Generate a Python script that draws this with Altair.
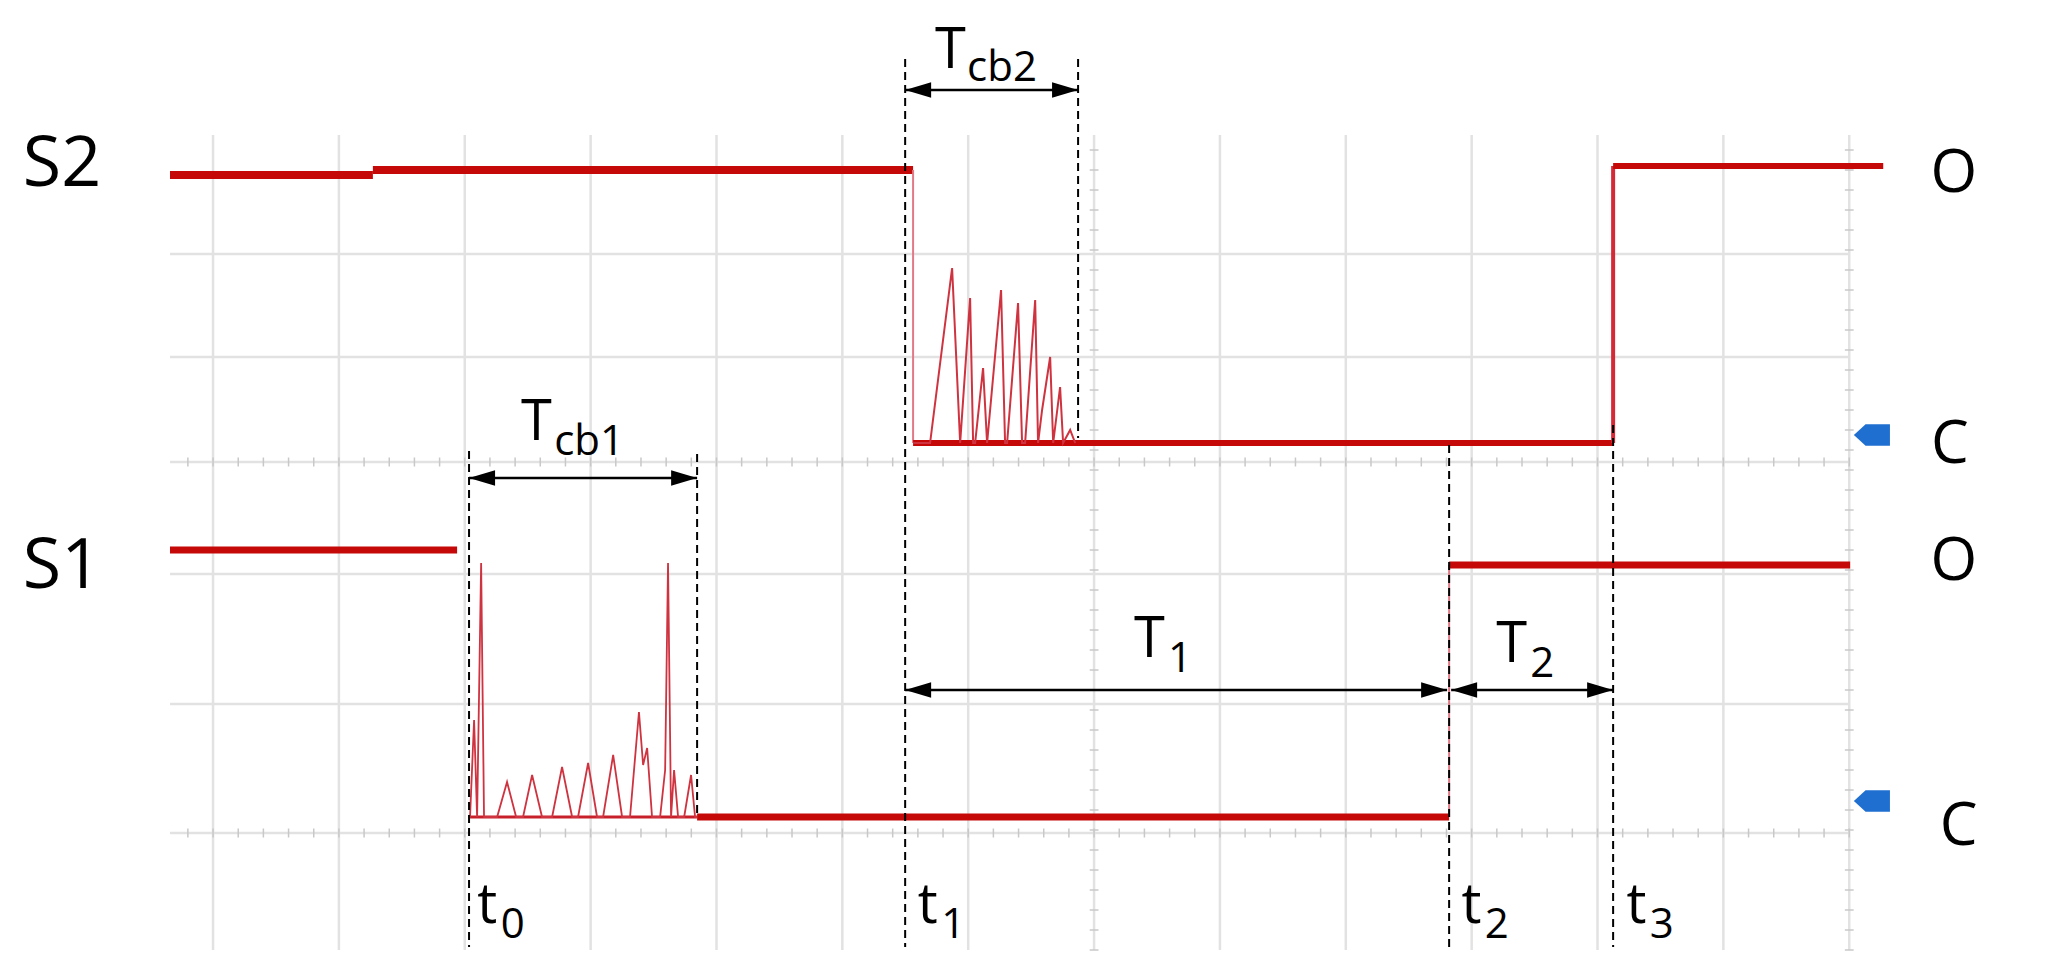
import altair as alt
import pandas as pd

# ---------------- scales (x: time in grid divisions, y: level in arbitrary units)
X_DOMAIN = [-0.342, 13.30]
Y_DOMAIN = [0.0, 8.15]

# ---------------- grid
GRID_X = [0, 1, 2, 3, 4, 5, 6, 7, 8, 9, 10, 11, 12, 13]
GRID_Y = [6.96, 5.93, 4.88, 3.76, 2.46, 1.17]
TICKED_X = [7, 13]
TICKED_Y = [4.88, 1.17]

# ---------------- traces
S2_HI_A = {"x": [-0.342, 1.27], "y": [7.75, 7.75]}
S2_HI_B = {"x": [1.27, 5.562], "y": [7.80, 7.80]}
S2_FALL = {"x": [5.562, 5.562], "y": [7.80, 5.07]}
S2_BOUNCE = {
    "x": [5.562, 5.697, 5.872, 5.936, 6.015, 6.039, 6.055, 6.118, 6.150, 6.261, 6.293,
          6.309, 6.396, 6.428, 6.452, 6.532, 6.555, 6.587, 6.651, 6.675, 6.730, 6.754,
          6.81, 6.85],
    "y": [5.07, 5.07, 6.82, 5.07, 6.52, 5.07, 5.07, 5.82, 5.07, 6.60, 5.07,
          5.07, 6.47, 5.07, 5.07, 6.50, 5.07, 5.40, 5.93, 5.07, 5.63, 5.07,
          5.20, 5.07],
}
S2_LO = {"x": [5.562, 11.124], "y": [5.07, 5.07]}
S2_RISE = {"x": [11.124, 11.124], "y": [5.07, 7.84]}
S2_HI_C = {"x": [11.124, 13.27], "y": [7.84, 7.84]}

S1_HI_A = {"x": [-0.342, 1.939], "y": [4.00, 4.00]}
S1_BOUNCE = {
    "x": [2.042, 2.074, 2.098, 2.130, 2.153, 2.257, 2.336, 2.408, 2.463, 2.535, 2.614,
          2.694, 2.773, 2.853, 2.900, 2.980, 3.051, 3.099, 3.179, 3.250, 3.313, 3.384,
          3.417, 3.449, 3.488, 3.552, 3.592, 3.615, 3.639, 3.663, 3.695, 3.743, 3.798,
          3.830, 3.846],
    "y": [1.33, 2.30, 1.33, 3.87, 1.33, 1.33, 1.68, 1.33, 1.33, 1.75, 1.33,
          1.33, 1.83, 1.33, 1.33, 1.87, 1.33, 1.33, 1.95, 1.33, 1.33, 2.38,
          1.85, 2.02, 1.33, 1.33, 1.80, 3.87, 1.33, 1.80, 1.33, 1.33, 1.75,
          1.33, 1.33],
}
S1_BBASE = {"x": [2.042, 3.846], "y": [1.33, 1.33]}
S1_LO = {"x": [3.846, 9.821], "y": [1.33, 1.33]}
S1_RISE = {"x": [9.821, 9.821], "y": [1.33, 3.85]}
S1_HI_B = {"x": [9.821, 13.007], "y": [3.85, 3.85]}

# ---------------- annotations
DASH_X = [2.034, 3.846, 5.499, 6.873, 9.821, 11.124]
DASH_Y1 = [4.99, 4.96, 8.91, 8.91, 5.05, 5.25]
DASH_Y2 = [0.03, 1.35, 0.03, 5.12, 0.03, 0.03]

ARROW_Y = [8.60, 4.72, 2.60, 2.60]
ARROW_X1 = [5.499, 2.034, 5.499, 9.837]
ARROW_X2 = [6.873, 3.846, 9.805, 11.124]

MAIN_TEXT = ["T", "T", "T", "T", "t", "t", "t", "t"]
MAIN_X = [5.737, 2.447, 7.318, 10.195, 2.10, 5.60, 9.92, 11.23]
MAIN_Y = [8.82, 5.10, 2.93, 2.88, 0.27, 0.27, 0.27, 0.27]
SUB_TEXT = ["cb2", "cb1", "1", "2", "0", "1", "2", "3"]
SUB_X = [5.991, 2.710, 7.588, 10.465, 2.285, 5.785, 10.105, 11.415]
SUB_Y = [8.69, 4.95, 2.78, 2.73, 0.12, 0.12, 0.12, 0.12]

SIDE_TEXT = ["S2", "S1"]
SIDE_X = [-1.20, -1.20]
SIDE_Y = [7.85, 3.83]
STATE_TEXT = ["O", "C", "O", "C"]
STATE_X = [13.83, 13.80, 13.83, 13.87]
STATE_Y = [7.76, 5.05, 3.88, 1.23]

MARKER_X = [13.18, 13.18]
MARKER_Y = [5.15, 1.49]

RED = "#c50808"
PINK = "#e27a86"
SPIKE = "#cf3340"
GRIDC = "#e2e2e2"
FONT = "Open Sans"


def X(f="x"):
    return alt.X(f"{f}:Q", scale=alt.Scale(domain=X_DOMAIN, nice=False, zero=False), axis=None)


def Y(f="y"):
    return alt.Y(f"{f}:Q", scale=alt.Scale(domain=Y_DOMAIN, nice=False, zero=False), axis=None)


# grid
vgrid = alt.Chart(pd.DataFrame({"x": GRID_X, "y": [Y_DOMAIN[0]] * len(GRID_X),
                                "y2": [Y_DOMAIN[1]] * len(GRID_X)})).mark_rule(
    color=GRIDC, strokeWidth=2.5).encode(x=X(), y=Y(), y2="y2:Q")
hgrid = alt.Chart(pd.DataFrame({"y": GRID_Y, "x": [X_DOMAIN[0]] * len(GRID_Y),
                                "x2": [13.0] * len(GRID_Y)})).mark_rule(
    color=GRIDC, strokeWidth=2.5).encode(y=Y(), x=X(), x2="x2:Q")

minor_x = [round(-0.2 + 0.2 * i, 3) for i in range(67)]
minor_y = [round(0.2 * i, 3) for i in range(41)]
tick_rows = []
for ty in TICKED_Y:
    for mx in minor_x:
        tick_rows.append({"x": mx, "x2": mx, "y": ty - 0.045, "y2": ty + 0.045})
for tx in TICKED_X:
    for my in minor_y:
        tick_rows.append({"x": tx - 0.035, "x2": tx + 0.035, "y": my, "y2": my})
ticks = alt.Chart(pd.DataFrame(tick_rows)).mark_rule(color="#c8c8c8", strokeWidth=1.5).encode(
    x=X(), x2="x2:Q", y=Y(), y2="y2:Q")

# traces
segs = [
    ("s2a", S2_HI_A, RED, 8), ("s2b", S2_HI_B, RED, 8), ("s2f", S2_FALL, PINK, 2),
    ("s2lo", S2_LO, RED, 6), ("s2bo", S2_BOUNCE, SPIKE, 2.0), ("s2r", S2_RISE, "#d42a38", 4),
    ("s2c", S2_HI_C, RED, 6),
    ("s1a", S1_HI_A, RED, 7), ("s1bb", S1_BBASE, "#c8202a", 3), ("s1bo", S1_BOUNCE, SPIKE, 1.8),
    ("s1lo", S1_LO, RED, 7), ("s1r", S1_RISE, PINK, 2), ("s1b", S1_HI_B, RED, 7),
]
rows = []
for name, d, col, w in segs:
    for i, (xx, yy) in enumerate(zip(d["x"], d["y"])):
        rows.append({"seg": name, "i": i, "x": xx, "y": yy, "c": col, "w": w})
traces = alt.Chart(pd.DataFrame(rows)).mark_line(strokeCap="butt", strokeJoin="miter").encode(
    x=X(), y=Y(), detail="seg:N", order="i:Q",
    color=alt.Color("c:N", scale=None), strokeWidth=alt.StrokeWidth("w:Q", scale=None))

# markers
marker = alt.Chart(pd.DataFrame({"x": MARKER_X, "y": MARKER_Y})).mark_point(
    shape="M -1 0 L -0.35 -0.6 L 1 -0.6 L 1 0.6 L -0.35 0.6 Z", size=1300,
    filled=True, color="#1f6fd0", opacity=1).encode(x=X(), y=Y())

# dashed guide lines
dashes = alt.Chart(pd.DataFrame({"x": DASH_X, "y": DASH_Y1, "y2": DASH_Y2})).mark_rule(
    color="black", strokeWidth=2, strokeDash=[8, 5]).encode(x=X(), y=Y(), y2="y2:Q")

# arrows
arr = pd.DataFrame({"x": ARROW_X1, "x2": ARROW_X2, "y": ARROW_Y})
arrow_lines = alt.Chart(arr).mark_rule(color="black", strokeWidth=2.5).encode(
    x=X(), x2="x2:Q", y=Y())
head_l = alt.Chart(arr).mark_point(shape="M 0 0 L 2 -0.6 L 2 0.6 Z", size=676, filled=True,
                                   color="black", opacity=1).encode(x=X("x"), y=Y())
head_r = alt.Chart(arr).mark_point(shape="M 0 0 L -2 -0.6 L -2 0.6 Z", size=676, filled=True,
                                   color="black", opacity=1).encode(x=X("x2"), y=Y())

# texts
main_t = alt.Chart(pd.DataFrame({"t": MAIN_TEXT, "x": MAIN_X, "y": MAIN_Y})).mark_text(
    font=FONT, fontSize=56, align="left", baseline="alphabetic", color="black").encode(
    x=X(), y=Y(), text="t:N")
sub_t = alt.Chart(pd.DataFrame({"t": SUB_TEXT, "x": SUB_X, "y": SUB_Y})).mark_text(
    font=FONT, fontSize=42, align="left", baseline="alphabetic", color="black").encode(
    x=X(), y=Y(), text="t:N")
side_t = alt.Chart(pd.DataFrame({"t": SIDE_TEXT, "x": SIDE_X, "y": SIDE_Y})).mark_text(
    font=FONT, fontSize=70, align="center", baseline="middle", color="black").encode(
    x=X(), y=Y(), text="t:N")
state_t = alt.Chart(pd.DataFrame({"t": STATE_TEXT, "x": STATE_X, "y": STATE_Y})).mark_text(
    font=FONT, fontSize=60, align="center", baseline="middle", color="black").encode(
    x=X(), y=Y(), text="t:N")

chart = alt.layer(
    vgrid, hgrid, ticks, traces, marker, dashes, arrow_lines, head_l, head_r,
    main_t, sub_t, side_t, state_t
).properties(
    width=1717, height=815,
    autosize=alt.AutoSizeParams(type="none"),
    padding={"left": 162, "top": 127, "right": 156, "bottom": 12},
    background="white",
).configure_view(stroke=None)

chart.save("out.html", embed_options={"renderer": "svg", "actions": False})
